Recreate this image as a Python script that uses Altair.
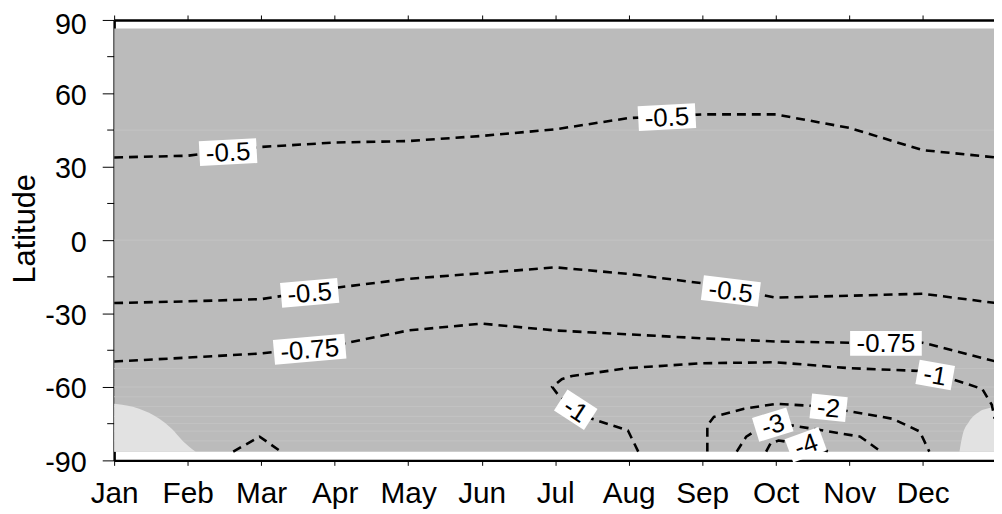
import altair as alt
import pandas as pd

months = ["Jan", "Feb", "Mar", "Apr", "May", "Jun", "Jul", "Aug", "Sep", "Oct", "Nov", "Dec"]
month_idx = list(range(13))  # 0 = Jan ... 12 = Jan (wrap-around)

# contour lines (month index, latitude)
lat_05_north = [33.8, 34.5, 38.1, 39.9, 40.5, 42.6, 45.3, 49.9, 51.4, 51.4, 45.9, 36.8, 33.8]
lat_05_south = [-25.7, -25.0, -24.1, -19.5, -15.8, -13.5, -11.1, -13.8, -17.6, -23.5, -22.7, -21.9, -25.7]
lat_075 = [-49.6, -48.0, -46.3, -43.0, -36.9, -34.1, -36.9, -38.5, -40.1, -41.4, -41.9, -41.9, -49.6]

c1_m = [7.13, 6.99, 6.50, 6.28, 6.05, 5.96, 6.09, 6.23, 6.99, 8.00, 9.00, 10.0, 11.0, 11.4, 11.81, 11.94, 11.98]
c1_lat = [-86.4, -77.8, -73.0, -69.3, -63.6, -60.0, -56.8, -55.5, -52.3, -50.3, -49.9, -52.3, -53.5, -56.8, -60.8, -67.3, -73.0]
c1b_m = [1.62, 1.98, 2.27]
c1b_lat = [-86.4, -80.3, -86.4]
c2_m = [8.07, 8.07, 8.16, 8.57, 9.01, 9.72, 9.96, 10.59, 10.96, 11.09]
c2_lat = [-86.4, -75.8, -72.2, -68.9, -66.9, -68.1, -69.7, -73.0, -78.2, -86.4]
c3_m = [8.47, 8.60, 8.73, 8.97, 9.24, 9.65, 10.15, 10.43]
c3_lat = [-86.4, -80.3, -77.8, -75.0, -75.8, -77.8, -80.3, -86.4]
c4_m = [8.87, 8.93, 9.04, 9.41, 9.72]
c4_lat = [-86.4, -83.1, -81.9, -83.4, -86.4]

# contour labels
label_text = ["-0.5", "-0.5", "-0.5", "-0.5", "-0.75", "-0.75", "-1", "-1", "-2", "-3", "-4"]
label_m = [1.55, 7.52, 2.66, 8.39, 2.66, 10.5, 11.17, 6.28, 9.72, 8.96, 9.41]
label_lat = [36.0, 50.3, -21.5, -20.8, -44.6, -42.2, -55.1, -69.3, -68.5, -75.4, -83.6]
label_angle = [357, 357, 355, 7, 355, 0, 10, 33, 6, 343, 340]

# lighter shaded patches near the South Pole
patchL_m = [0, 0.34, 0.61, 0.78, 0.94, 1.11]
patchL_lat = [-66.9, -68.9, -72.9, -77.0, -82.3, -86.5]
patchR_m = [11.5, 11.54, 11.63, 11.77, 11.97, 12.0]
patchR_lat = [-86.5, -79.9, -74.2, -70.1, -67.7, -66.9]

# faint rendering bands inside the shaded field
band_lat = [45, 0, -52.5, -60, -64, -68, -72, -75, -78, -82]
field_lat = [-86.5, 86.5]
minor_lat = [75, 45, 15, -15, -45, -75]

GRAY = "#bbbbbb"
LIGHT = "#e2e2e2"
FONT = "Liberation Sans"
W, H = 887, 444

xs = alt.Scale(domain=[0, 11.97], nice=False, zero=False)
ys = alt.Scale(domain=[-90, 90], nice=False, zero=False)

month_js = "[" + ",".join("'%s'" % m for m in months) + "]"

x_bottom = alt.Axis(values=list(range(12)), labelExpr=month_js + "[datum.value]", orient="bottom",
                    title=None, grid=False, tickSize=5, tickWidth=1, tickColor="black",
                    domainColor="black", domainWidth=2.5, labelFontSize=30, labelFont=FONT,
                    labelColor="black", labelPadding=13, labelFlush=False, labelOverlap=False)
x_top = alt.Axis(values=list(range(12)), orient="top", labels=False, title=None, grid=False,
                 tickSize=5, tickWidth=1, tickColor="black", domainColor="black", domainWidth=2.5)
y_axis = alt.Axis(values=[-90, -60, -30, 0, 30, 60, 90], orient="left", title="Latitude",
                  labelExpr="toString(datum.value)",
                  grid=False, tickSize=12, tickWidth=1, tickColor="black", domainColor="black",
                  domainWidth=2.5, labelFontSize=29, labelFont=FONT, labelColor="black",
                  labelPadding=16, labelFlush=False, labelOverlap=False,
                  labelOffset={"condition": {"test": "datum.value == 90", "value": 5}, "value": 2},
                  titleFontSize=31, titleFont=FONT, titleFontWeight="normal", titleColor="black",
                  titleX=-80, titleY=210, titleAlign="center", titleBaseline="alphabetic",
                  titleAngle=270)


def Y(field):
    return alt.Y(field, scale=ys, axis=y_axis)


bg_df = pd.DataFrame({"x0": [0], "x1": [12], "y0": [field_lat[0]], "y1": [field_lat[1]]})
bg = alt.Chart(bg_df).mark_rect(color=GRAY, clip=True).encode(
    x=alt.X("x0:Q", scale=xs, axis=x_bottom), x2="x1",
    y=Y("y0:Q"), y2="y1")

bands = alt.Chart(pd.DataFrame({"lat": band_lat})).mark_rule(color="#c3c3c3", strokeWidth=1).encode(
    y=Y("lat:Q"), x=alt.value(0), x2=alt.value(W))

patch_rows = []
for pid, (ms, ls) in enumerate([(patchL_m, patchL_lat), (patchR_m, patchR_lat)]):
    for m, l in zip(ms, ls):
        patch_rows.append({"pid": pid, "m": m, "lat": l, "base": field_lat[0]})
patches = alt.Chart(pd.DataFrame(patch_rows)).mark_area(color=LIGHT, clip=True, interpolate="monotone").encode(
    x=alt.X("m:Q", scale=xs, axis=None), y=Y("lat:Q"), y2="base",
    detail="pid:N")

line_rows = []
lines = [(month_idx, lat_05_north), (month_idx, lat_05_south), (month_idx, lat_075),
         (c1_m, c1_lat), (c1b_m, c1b_lat), (c2_m, c2_lat), (c3_m, c3_lat), (c4_m, c4_lat)]
for lid, (ms, ls) in enumerate(lines):
    for k, (m, l) in enumerate(zip(ms, ls)):
        line_rows.append({"lid": lid, "k": k, "m": m, "lat": l})
contours = alt.Chart(pd.DataFrame(line_rows)).mark_line(
    color="black", strokeWidth=2.6, strokeDash=[9, 6], clip=True).encode(
    x=alt.X("m:Q", scale=xs, axis=x_top), y=Y("lat:Q"),
    detail="lid:N", order="k:Q")

char_w = {"-": 0.333, ".": 0.278}
LFS = 26
rows = []
for t, m, l, a in zip(label_text, label_m, label_lat, label_angle):
    tw = sum(char_w.get(c, 0.556) for c in t) * LFS
    bw = tw + 13
    r = 25.0 / bw
    rows.append({"text": t, "m": m, "lat": l, "angle": a,
                 "shape": "M-1,%.4fH1V%.4fH-1Z" % (-r, r), "size": bw * bw})
lab_df = pd.DataFrame(rows)
boxes = alt.Chart(lab_df).mark_point(filled=True, color="white", opacity=1, strokeWidth=0).encode(
    x=alt.X("m:Q", scale=xs, axis=None), y=Y("lat:Q"),
    shape=alt.Shape("shape:N", scale=None), size=alt.Size("size:Q", scale=None),
    angle=alt.Angle("angle:Q", scale=None))
texts = alt.Chart(lab_df).mark_text(font=FONT, fontSize=LFS, color="black", align="center",
                                    baseline="middle", dy=1).encode(
    x=alt.X("m:Q", scale=xs, axis=None), y=Y("lat:Q"),
    text="text:N", angle=alt.Angle("angle:Q", scale=None))

minor = alt.Chart(pd.DataFrame({"lat": minor_lat})).mark_rule(color="black", strokeWidth=1).encode(
    y=Y("lat:Q"), x=alt.value(-7), x2=alt.value(0))

chart = alt.layer(bg, bands, patches, contours, boxes, texts, minor).resolve_axis(
    x="independent").properties(
    width=W, height=H,
    autosize=alt.AutoSizeParams(type="none"),
    padding={"left": 107, "top": 10, "right": 0, "bottom": 52},
).configure_view(stroke=None).configure(background="white")

chart.save("out.html", embed_options={"renderer": "svg", "actions": False})
